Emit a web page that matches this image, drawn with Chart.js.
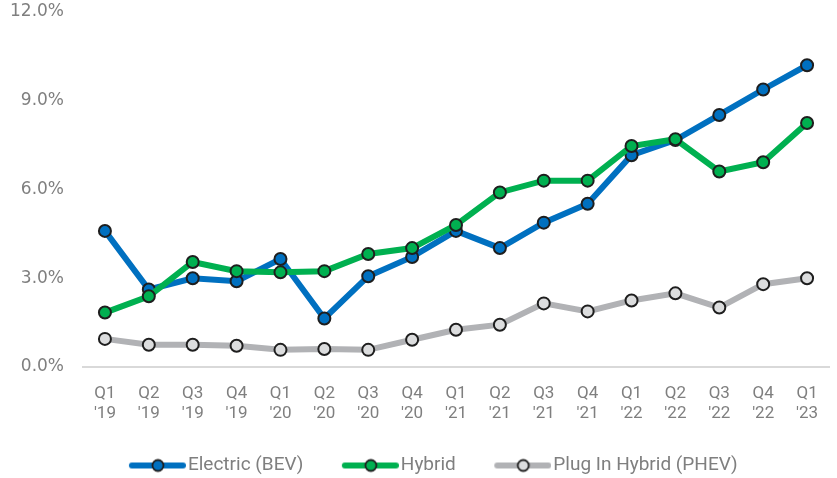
<!DOCTYPE html>
<html>
<head>
<meta charset="utf-8">
<script src="https://cdn.jsdelivr.net/npm/chart.js@4"></script>
<style>
  html, body { margin: 0; padding: 0; background: #fff; }
  #wrap { width: 837px; height: 478px; }
</style>
</head>
<body>
<div id="wrap"><canvas id="chart"></canvas></div>
<script>
// quarters
const quarters = [
  ['Q1', "'19"], ['Q2', "'19"], ['Q3', "'19"], ['Q4', "'19"],
  ['Q1', "'20"], ['Q2', "'20"], ['Q3', "'20"], ['Q4', "'20"],
  ['Q1', "'21"], ['Q2', "'21"], ['Q3', "'21"], ['Q4', "'21"],
  ['Q1', "'22"], ['Q2', "'22"], ['Q3', "'22"], ['Q4', "'22"],
  ['Q1', "'23"]
];

// share of sales, %
const electric = [4.6, 2.62, 3.0, 2.9, 3.65, 1.64, 3.07, 3.72, 4.6, 4.02, 4.88, 5.52, 7.16, 7.67, 8.52, 9.38, 10.2];
const hybrid = [1.84, 2.39, 3.55, 3.24, 3.2, 3.24, 3.82, 4.02, 4.8, 5.9, 6.3, 6.3, 7.47, 7.7, 6.61, 6.92, 8.25];
const plugIn = [0.95, 0.75, 0.75, 0.72, 0.58, 0.61, 0.58, 0.92, 1.26, 1.43, 2.15, 1.88, 2.25, 2.49, 2.01, 2.8, 3.0];

const yTicks = [0, 3, 6, 9, 12];

const BLUE = '#0070C0';
const GREEN = '#00B050';
const GREY = '#B1B2B5';
const GREY_FILL = '#DCDDDE';
const EDGE = '#1E1E1E';
const TXT = '#7F7F7F';

// legend swatch: line with a dot, with some empty room on the left
// (box width 61, image drawn centred on it, so it spills a bit each side)
function swatch(line, fill) {
  const c = document.createElement('canvas');
  c.width = 76; c.height = 16;
  const g = c.getContext('2d');
  g.strokeStyle = line;
  g.lineWidth = 6;
  g.lineCap = 'round';
  g.beginPath(); g.moveTo(22, 8); g.lineTo(73, 8); g.stroke();
  g.fillStyle = fill;
  g.strokeStyle = EDGE;
  g.lineWidth = 1.8;
  g.beginPath(); g.arc(48, 8, 5.5, 0, Math.PI * 2); g.fill(); g.stroke();
  return c;
}

function series(label, data, line, fill) {
  return {
    label: label,
    data: data,
    borderColor: line,
    backgroundColor: fill,
    borderWidth: 6,
    pointRadius: 6,
    pointBorderWidth: 2,
    pointBorderColor: EDGE,
    pointBackgroundColor: fill,
    tension: 0,
    legendMark: swatch(line, fill)
  };
}

// nudge legend right, the source has it a bit off centre
const legendShift = {
  id: 'legendShift',
  afterLayout(chart) {
    chart.legend.left += 9;
    chart.legend.right += 9;
  }
};

new Chart(document.getElementById('chart'), {
  type: 'line',
  data: {
    labels: quarters,
    datasets: [
      series('Plug In Hybrid (PHEV)', plugIn, GREY, GREY_FILL),
      series('Hybrid', hybrid, GREEN, GREEN),
      series('Electric (BEV)', electric, BLUE, BLUE)
    ]
  },
  plugins: [legendShift],
  options: {
    responsive: true,
    maintainAspectRatio: false,
    animation: false,
    layout: { padding: { top: 0, right: 0, left: 0, bottom: -7 } },
    scales: {
      x: {
        offset: true,
        afterFit: (s) => { s.height = 62; },
        grid: { display: false, drawTicks: false },
        border: { display: true, color: '#D9D9D9', width: 2 },
        ticks: {
          color: TXT,
          padding: 17,
          maxRotation: 0,
          autoSkip: false,
          font: { family: 'Roboto', size: 17, lineHeight: 1.15 }
        }
      },
      y: {
        min: 0,
        max: 12,
        afterBuildTicks: (s) => { s.ticks = yTicks.map(v => ({ value: v })); },
        afterFit: (s) => { s.width = 83; s.paddingTop = 12; s.paddingBottom = 0; },
        grid: { display: false, drawTicks: false },
        border: { display: false },
        ticks: {
          color: TXT,
          padding: 19,
          font: { family: 'DejaVu Sans', size: 17 },
          callback: (v) => v.toFixed(1) + '%'
        }
      }
    },
    plugins: {
      tooltip: { enabled: false },
      legend: {
        position: 'bottom',
        reverse: true,
        labels: {
          usePointStyle: true,
          pointStyleWidth: 61,
          padding: 27,
          color: TXT,
          font: { family: 'Roboto', size: 19 },
          generateLabels: (chart) => chart.data.datasets.map((d, i) => ({
            text: d.label,
            pointStyle: d.legendMark,
            fillStyle: d.backgroundColor,
            strokeStyle: d.borderColor,
            lineWidth: 0,
            fontColor: TXT,
            datasetIndex: i,
            hidden: false
          }))
        }
      }
    }
  }
});
</script>
</body>
</html>
